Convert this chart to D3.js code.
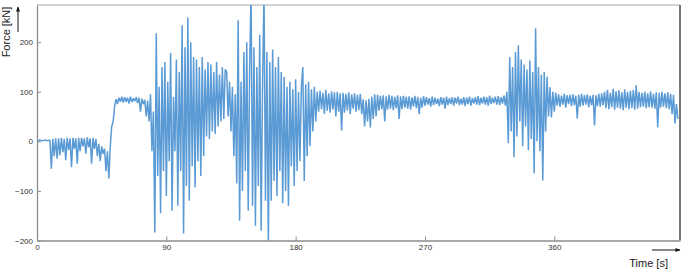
<!DOCTYPE html>
<head>
<meta charset="utf-8">
</head>
<style>
body { margin: 0; background: #fff; }
svg { font-family: "Liberation Sans", Arial, sans-serif; }
.line { fill: none; stroke: #5b9bd5; stroke-width: 1.5; stroke-linejoin: bevel; }
.axis path, .axis line { stroke: #8c8c8c; }
.axis text { fill: #333; font-size: 8px; }
.title { font-size: 11px; fill: #222; }
</style>
<body>
<svg id="force" width="685" height="269"></svg>

<script src="https://d3js.org/d3.v7.min.js"></script>
<script>

// sampled force record, one sample per second, in blocks of 90 s
var sampleStep = 1;
var force0to89 = [2,1,3,2,1,2,3,1,2,2, -55,5,-30,6,-35, 6,-28,7,-22,5,-38,7,-18,
  6,-52,7,-15,6,-45,7,-20, 7,-10,6,-25,8,-12,6,-45,7,-15, 5,-30,-5,-40,-10,-25,-15,-60,-20,
  -75,-10,30,40,70,85,75,88,80,90, 78,89,80,88,76,90,79,87,81,89, 77,88,60,86,75,84,50,82,
  40,95,-20,60,-184,218, -70,110,-145,150,-60,160];
var force90to179 = [-110,120,-40,178,-140,90,-20,165,-130,140,
  -60,234,-186,190,-90,250,-120,200,-50,170, -93,165,-40,150,-70,170,-30,145,10,160,
  5,155,20,140,15,160,30,135,40,150,45,145, 140,50,120,20,110,-30,95,
  -85,244,-160,120,-100,180,-60,200,-140,150,300,-130,
  190,-170,150,-90,215,-180,120,300,-120,180,-215,
  160,-120,185,-80,150,-110,170,-60,140,-125, 130,-100,110,-130,120,-50,105,-90];
var force180to269 = [125,-60,100,-40,110,150,-80,115,-30,120,-10,105,20,110,40,100,
  60,102,65,98,55,104,62,97,58,101, 64,99,50,100,60,97,22,98,58,96,
  62,99,55,95,66,97,60,94,63,96, 55,85,30,83,40,86,28,90,45,95,50,
  94,62,92,65,93,40,91,64,94,66, 92,63,90,67,93,45,91,65,92,68,
  90,66,91,64,89,70,92,67,90,55,88,68,91];
var force270to359 = [72,89,74,87,70,90,73,88,75,86, 71,89,74,88,66,90,73,87,75,89,
  72,88,76,90,73,86,74,89,71,88, 75,90,72,87,76,89,74,91,73,88,
  76,90,74,89,72,92,75,88,77,90, 74,91,73,89,76,92,72,
  100,-4,170,20,150,-32,180,10,194,40, 165,-10,155,30,145,-18,163,5,140,-65,
  228,0,150,-20,135,-79,140,20,130, 50,109,48,100];
var force360to446 = [60,98, 72,95,70,92,74,96,68,93,75,94, 71,95,73,92,46,94,70,96,72,93,
  74,95,69,92,73,94,32,93,71,96, 70,97,73,
  100,67,104,65,98,69,106,64,101,68, 103,66,99,63,105,68,100,65,102,67,
  104,64,113,66,100,69, 98,70,100,67,97,69,101,68,96,66,99,
  28,98,68,100,70,97,67,99,65,96,55,94, 36,75,45];

var xTicks = [0, 90, 180, 270, 360];
var yTicks = [-200, -100, 0, 100, 200];

var force = force0to89.concat(force90to179, force180to269, force270to359, force360to446);
var data = force.map(function(v, i) { return {t: i * sampleStep, f: v}; });

var svg = d3.select("#force");
var plotLeft = 37, plotRight = 680, plotTop = 5, plotBottom = 240.5;

var x = d3.scaleLinear().domain([0, 447.5]).range([plotLeft, plotRight]),
    y = d3.scaleLinear().domain([-200, 275]).range([plotBottom, plotTop]);

svg.append("clipPath").attr("id", "plot")
  .append("rect")
    .attr("x", plotLeft).attr("y", plotTop)
    .attr("width", plotRight - plotLeft).attr("height", plotBottom - plotTop);

// frame: light top, dark right
svg.append("line")
    .attr("x1", plotLeft).attr("x2", plotRight).attr("y1", plotTop).attr("y2", plotTop)
    .attr("stroke", "#c4c4c4").attr("stroke-width", 1.5);
svg.append("line")
    .attr("x1", plotRight).attr("x2", plotRight).attr("y1", plotTop).attr("y2", plotBottom)
    .attr("stroke", "#555").attr("stroke-width", 1.6);

svg.append("path")
    .datum(data)
    .attr("class", "line")
    .attr("clip-path", "url(#plot)")
    .attr("d", d3.line()
      .x(function(d) { return x(d.t); })
      .y(function(d) { return y(d.f); }));

svg.append("g")
    .attr("class", "axis axis--x")
    .attr("transform", "translate(0," + plotBottom + ")")
    .call(d3.axisBottom(x).tickValues(xTicks).tickSizeInner(-4).tickSizeOuter(0).tickPadding(4));

svg.append("g")
    .attr("class", "axis axis--y")
    .attr("transform", "translate(" + plotLeft + ",0)")
    .call(d3.axisLeft(y).tickValues(yTicks).tickSizeInner(-4).tickSizeOuter(0).tickPadding(4));

svg.selectAll(".axis path").attr("stroke-width", 1.3);

// axis titles with arrows
svg.append("defs").append("marker")
    .attr("id", "arrow").attr("viewBox", "0 0 10 10")
    .attr("refX", 9).attr("refY", 5)
    .attr("markerWidth", 7).attr("markerHeight", 5)
    .attr("orient", "auto")
  .append("path").attr("d", "M0,1L10,5L0,9Z").attr("fill", "#111");

svg.append("line")
    .attr("x1", 18).attr("x2", 18).attr("y1", 32).attr("y2", 7)
    .attr("stroke", "#111").attr("stroke-width", 1)
    .attr("marker-end", "url(#arrow)");
svg.append("text")
    .attr("class", "title")
    .attr("transform", "translate(10,32) rotate(-90)")
    .attr("text-anchor", "middle")
    .text("Force [kN]");

svg.append("line")
    .attr("x1", 652).attr("x2", 680).attr("y1", 250).attr("y2", 250)
    .attr("stroke", "#111").attr("stroke-width", 1)
    .attr("marker-end", "url(#arrow)");
svg.append("text")
    .attr("class", "title")
    .attr("x", 668).attr("y", 267)
    .attr("text-anchor", "end")
    .text("Time [s]");

</script>
</body>
